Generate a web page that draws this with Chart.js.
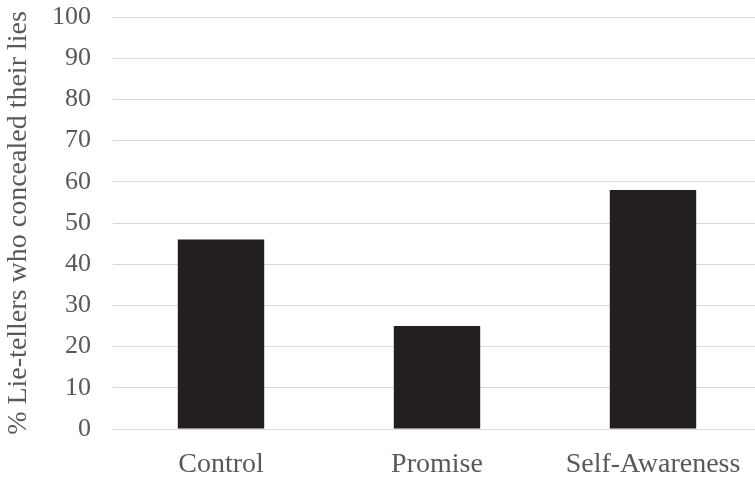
<!DOCTYPE html>
<html>
<head>
<meta charset="utf-8">
<script src="https://cdn.jsdelivr.net/npm/chart.js@4"></script>
<style>
  html, body { margin: 0; padding: 0; background: #fff; overflow: hidden; }
  /* original plot area runs a few px past the right edge, so the canvas is a bit wider and clipped */
  #wrap { width: 755px; height: 477px; overflow: hidden; }
</style>
</head>
<body>
<div id="wrap"><canvas id="chart" width="761" height="477"></canvas></div>
<script>
'use strict';

const categories = ['Control', 'Promise', 'Self-Awareness'];
const concealed  = [46, 25, 58];
const yTicks     = [0, 10, 20, 30, 40, 50, 60, 70, 80, 90, 100];

const textColor = '#595959';
const gridColor = '#d9d9d9';
const family = "'Liberation Serif','Times New Roman',serif";

new Chart(document.getElementById('chart').getContext('2d'), {
  type: 'bar',
  data: {
    labels: categories,
    datasets: [{
      data: concealed,
      backgroundColor: '#231f20',
      borderWidth: 0,
      categoryPercentage: 1,
      barPercentage: 0.4
    }]
  },
  options: {
    responsive: false,
    animation: false,
    devicePixelRatio: 1,
    layout: { padding: { top: 17, right: 0, bottom: 0, left: 0 } },
    plugins: { legend: { display: false }, tooltip: { enabled: false } },
    scales: {
      x: {
        grid: { display: false },
        border: { display: true, color: gridColor, width: 1 },
        ticks: { color: textColor, font: { family, size: 28, lineHeight: 1 }, padding: 14, maxRotation: 0 },
        afterFit: s => { s.height = 48; s.paddingLeft = 0; s.paddingRight = 0; }
      },
      y: {
        min: 0,
        max: 100,
        afterBuildTicks: axis => { axis.ticks = yTicks.map(v => ({ value: v })); },
        grid: { color: gridColor, lineWidth: 1, drawTicks: false },
        border: { display: false },
        ticks: { color: textColor, font: { family, size: 26 }, padding: 22 },
        title: {
          display: true,
          text: '% Lie-tellers who concealed their lies',
          color: textColor,
          font: { family, size: 28, lineHeight: 1.2 },
          padding: { top: 2, bottom: 16 }
        },
        afterFit: s => { s.width = 113; s.paddingTop = 0; s.paddingBottom = 0; }
      }
    }
  }
});
</script>
</body>
</html>
